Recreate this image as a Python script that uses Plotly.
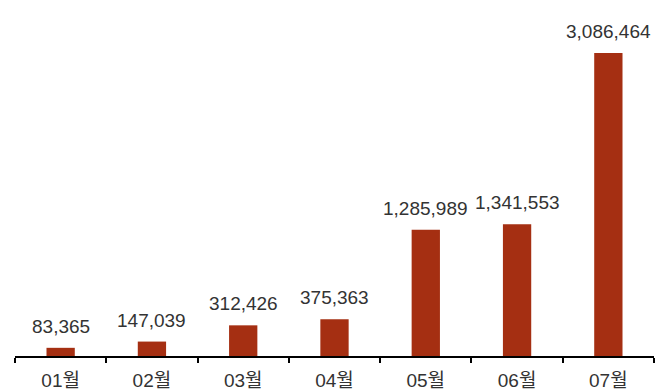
import plotly.graph_objects as go

categories = ["01월", "02월", "03월", "04월", "05월", "06월", "07월"]
values = [83365, 147039, 312426, 375363, 1285989, 1341553, 3086464]

FONT = "Liberation Sans, Arial, Noto Sans CJK KR, sans-serif"
BAR = "#A52F12"

fig = go.Figure()
fig.add_trace(go.Bar(
    x=categories, y=values,
    marker=dict(color=BAR, line=dict(width=0)),
    width=0.31,
    hoverinfo="skip",
    cliponaxis=False,
))

for c, v in zip(categories, values):
    fig.add_annotation(
        x=c, y=v, text=f"{v:,}", showarrow=False,
        yanchor="bottom", yshift=9,
        font=dict(family=FONT, size=19, color="#333333"),
    )

# page body has an 8px margin; margins below compensate for it
fig.update_layout(
    width=670, height=392,
    margin=dict(l=7, r=24, t=12, b=44, autoexpand=False),
    paper_bgcolor="white", plot_bgcolor="white",
    showlegend=False,
    bargap=0.69,
    xaxis=dict(
        showline=True, linecolor="#000000", linewidth=1.5,
        ticks="outside", tickson="boundaries", ticklen=5,
        tickcolor="#000000", tickwidth=1.5,
        ticklabelstandoff=6,
        tickfont=dict(family=FONT, size=19, color="#333333"),
        showgrid=False, zeroline=False, automargin=False,
    ),
    yaxis=dict(
        visible=False, range=[0, 3422600], showgrid=False, zeroline=False,
        automargin=False,
    ),
)

fig.write_html("out.html")
